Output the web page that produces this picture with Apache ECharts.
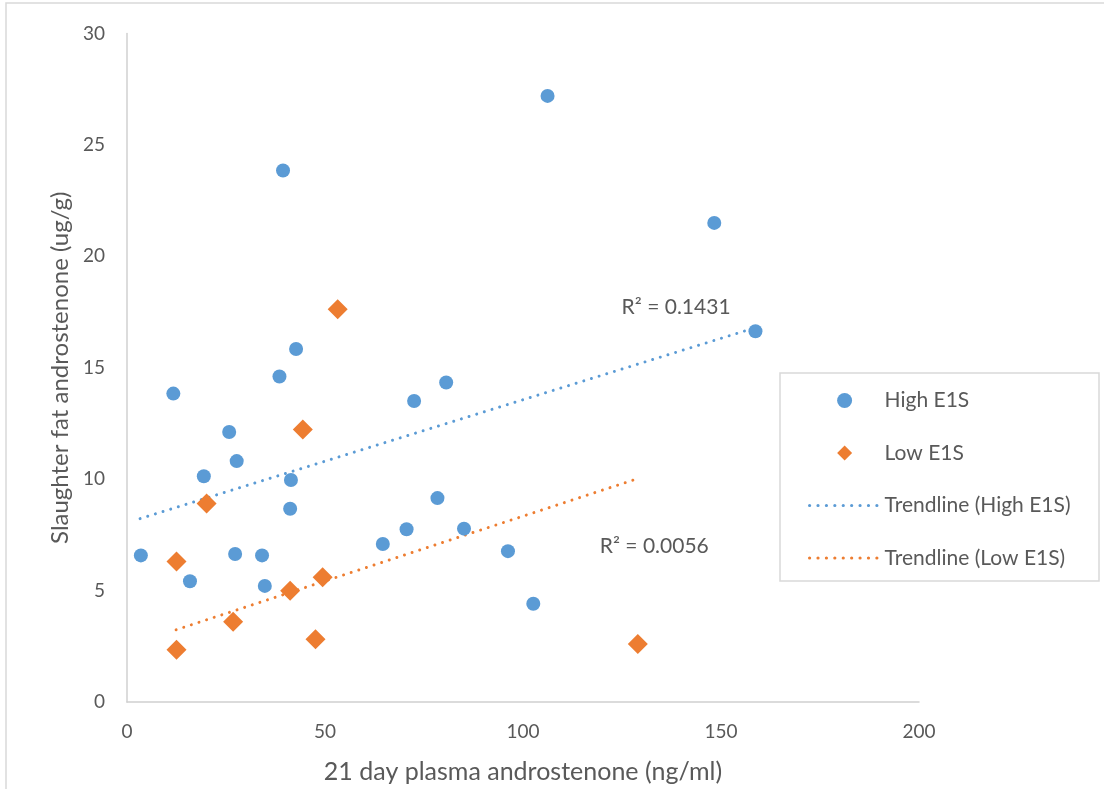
<!DOCTYPE html>
<html>
<head>
<meta charset="utf-8">
<script src="https://cdn.jsdelivr.net/npm/echarts@6/dist/echarts.min.js"></script>
<style>
  html, body { margin: 0; padding: 0; background: #fff; }
  #main { width: 1104px; height: 789px; }
</style>
</head>
<body>
<div id="main"></div>
<script>
// points: [plasma ng/ml, fat ug/g]
const highE1S = [
  [3.5, 6.58], [11.7, 13.84], [15.9, 5.42], [19.4, 10.13], [25.8, 12.12],
  [27.3, 6.64], [27.7, 10.81], [34.1, 6.58], [34.8, 5.21], [38.5, 14.61],
  [39.4, 23.85], [41.2, 8.67], [41.4, 9.96], [42.7, 15.84], [64.6, 7.09],
  [70.6, 7.75], [72.5, 13.51], [78.4, 9.15], [80.6, 14.34], [85.1, 7.78],
  [96.2, 6.77], [102.6, 4.41], [106.2, 27.2], [148.3, 21.5], [158.7, 16.64]
];
const lowE1S = [
  [12.5, 6.3], [12.5, 2.34], [20.1, 8.91], [26.8, 3.6], [41.2, 4.99],
  [44.4, 12.23], [47.6, 2.82], [49.4, 5.6], [53.2, 17.63], [129.0, 2.6]
];
// trendline end points as drawn
const trendHigh = [[3.3, 8.23], [158.7, 16.8]];
const trendLow = [[12.4, 3.24], [128.0, 9.97]];
const r2Labels = [
  { text: 'R² = 0.1431', at: [124.9, 17.73] },
  { text: 'R² = 0.0056', at: [119.4, 6.99] }
];
const xTicks = { min: 0, max: 200, interval: 50 };
const yTicks = { min: 0, max: 30, interval: 5 };

const FONT = 'Lato';
const GREY = '#595959';
const BLUE = '#5B9BD5';
const ORANGE = '#ED7D31';
const DIAMOND = 'path://M0,-10L10,0L0,10L-10,0Z';

const chart = echarts.init(document.getElementById('main'));

const dotted = (color) => ({ color: color, width: 3, type: [0.01, 8], cap: 'round' });
const legendDots = { width: 3.2, type: [0.01, 8.4], cap: 'round' };

chart.setOption({
  animation: false,
  textStyle: { fontFamily: FONT },
  grid: { left: 127, top: 33.5, right: 185, bottom: 86 },
  xAxis: {
    type: 'value',
    min: xTicks.min, max: xTicks.max, interval: xTicks.interval,
    name: '21 day plasma androstenone (ng/ml)',
    nameLocation: 'middle', nameGap: 57,
    nameTextStyle: { fontFamily: FONT, fontSize: 25, color: GREY },
    axisLine: { lineStyle: { color: '#d0d0d0', width: 1.5 } },
    axisTick: { show: false },
    splitLine: { show: false },
    axisLabel: { fontFamily: FONT, fontSize: 19, color: GREY, margin: 20 }
  },
  yAxis: {
    type: 'value',
    min: yTicks.min, max: yTicks.max, interval: yTicks.interval,
    name: 'Slaughter fat androstenone (ug/g)',
    nameLocation: 'middle', nameGap: 55,
    nameTextStyle: { fontFamily: FONT, fontSize: 24, color: GREY },
    axisLine: { show: true, lineStyle: { color: '#d0d0d0', width: 1.5 } },
    axisTick: { show: false },
    splitLine: { show: false },
    axisLabel: { fontFamily: FONT, fontSize: 19, color: GREY, margin: 22 }
  },
  legend: {
    orient: 'vertical',
    left: 803, top: 385,
    itemWidth: 70, itemHeight: 15,
    itemGap: 31.5,
    symbolKeepAspect: true,
    textStyle: { fontFamily: FONT, fontSize: 21, color: GREY, lineHeight: 20, padding: [0, 0, 0, 0] },
    data: [
      { name: 'High E1S', icon: 'circle' },
      { name: 'Low E1S', icon: DIAMOND },
      { name: 'Trendline (High E1S)', itemStyle: { opacity: 0 }, lineStyle: legendDots },
      { name: 'Trendline (Low E1S)', itemStyle: { opacity: 0 }, lineStyle: legendDots }
    ]
  },
  series: [
    {
      name: 'Trendline (High E1S)', type: 'line', data: trendHigh,
      symbol: 'none', lineStyle: dotted(BLUE), itemStyle: { color: BLUE }, z: 1
    },
    {
      name: 'Trendline (Low E1S)', type: 'line', data: trendLow,
      symbol: 'none', lineStyle: dotted(ORANGE), itemStyle: { color: ORANGE }, z: 1
    },
    {
      name: 'High E1S', type: 'scatter', data: highE1S,
      symbol: 'circle', symbolSize: 14, itemStyle: { color: BLUE, opacity: 1 }, z: 3
    },
    {
      name: 'Low E1S', type: 'scatter', data: lowE1S,
      symbol: 'diamond', symbolSize: 20, itemStyle: { color: ORANGE, opacity: 1 }, z: 3
    }
  ]
});

// frame, legend box and R² texts
const graphics = [
  {
    type: 'rect', silent: true,
    shape: { x: 6, y: 3, width: 1200, height: 900 },
    style: { fill: 'none', stroke: '#d9d9d9', lineWidth: 1.5 }
  },
  {
    type: 'rect', silent: true,
    shape: { x: 780, y: 373, width: 319, height: 208 },
    style: { fill: 'none', stroke: '#d9d9d9', lineWidth: 1.5 }
  }
];
r2Labels.forEach((l) => {
  const p = chart.convertToPixel({ gridIndex: 0 }, l.at);
  graphics.push({
    type: 'text', silent: true, x: p[0], y: p[1],
    style: { text: l.text, font: '21px ' + FONT, fill: GREY, verticalAlign: 'middle', align: 'left' }
  });
});
chart.setOption({ graphic: graphics });
</script>
</body>
</html>
